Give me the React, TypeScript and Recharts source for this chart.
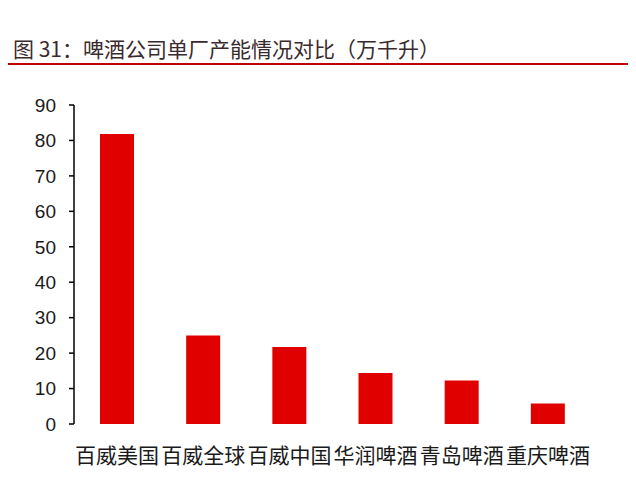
import { BarChart, Bar, XAxis, YAxis } from 'recharts'

const TITLE = '图 31：啤酒公司单厂产能情况对比（万千升）'

const CATEGORIES = ['百威美国', '百威全球', '百威中国', '华润啤酒', '青岛啤酒', '重庆啤酒']
const CAPACITY = [81.8, 25.0, 21.7, 14.4, 12.3, 5.8]
const Y_TICKS = [0, 10, 20, 30, 40, 50, 60, 70, 80, 90]
const BOUNDARY_TICKS = [0, 1, 2, 3, 4, 5, 6]

const RED = '#e00000'
const AXIS = '#000000'

const data = CATEGORIES.map((name, i) => ({ name, value: CAPACITY[i] }))

export default function App() {
  return (
    <div style={{ position: 'absolute', left: 0, top: 0, width: 636, height: 486, background: '#ffffff' }}>
      <div
        style={{
          position: 'absolute',
          left: 13,
          top: 35,
          fontFamily: '"Noto Sans CJK SC", sans-serif',
          fontSize: 21,
          lineHeight: '26px',
          color: '#3a2a2d',
          whiteSpace: 'nowrap',
        }}
      >
        {TITLE}
      </div>
      <div style={{ position: 'absolute', left: 8, top: 63, width: 620, height: 2, background: '#c00000' }} />
      <div style={{ position: 'absolute', left: 0, top: 0 }}>
        <BarChart width={636} height={486} data={data} margin={{ top: 105, right: 45, bottom: 0, left: 0 }}>
          <XAxis
            xAxisId="grid"
            type="number"
            dataKey="value"
            domain={[0, 6]}
            ticks={BOUNDARY_TICKS}
            allowDataOverflow
            height={0}
            tickSize={6}
            tickFormatter={() => ''}
            axisLine={{ stroke: AXIS, strokeWidth: 1.5 }}
            tickLine={{ stroke: AXIS, strokeWidth: 1.5 }}
          />
          <XAxis
            dataKey="name"
            height={62}
            interval={0}
            axisLine={false}
            tickLine={false}
            tickSize={0}
            tickMargin={24}
            tick={{ fontSize: 21, fill: '#1a1a1a', fontFamily: '"Noto Sans CJK SC", sans-serif' }}
          />
          <YAxis
            domain={[0, 90]}
            ticks={Y_TICKS}
            width={74}
            tickSize={5}
            tickMargin={13}
            axisLine={{ stroke: AXIS, strokeWidth: 1.5 }}
            tickLine={{ stroke: AXIS, strokeWidth: 1.5 }}
            tick={{ fontSize: 19, fill: '#1a1a1a', fontFamily: '"Liberation Sans", Arial, sans-serif' }}
          />
          <Bar dataKey="value" fill={RED} barSize={34} isAnimationActive={false} />
        </BarChart>
      </div>
    </div>
  )
}
